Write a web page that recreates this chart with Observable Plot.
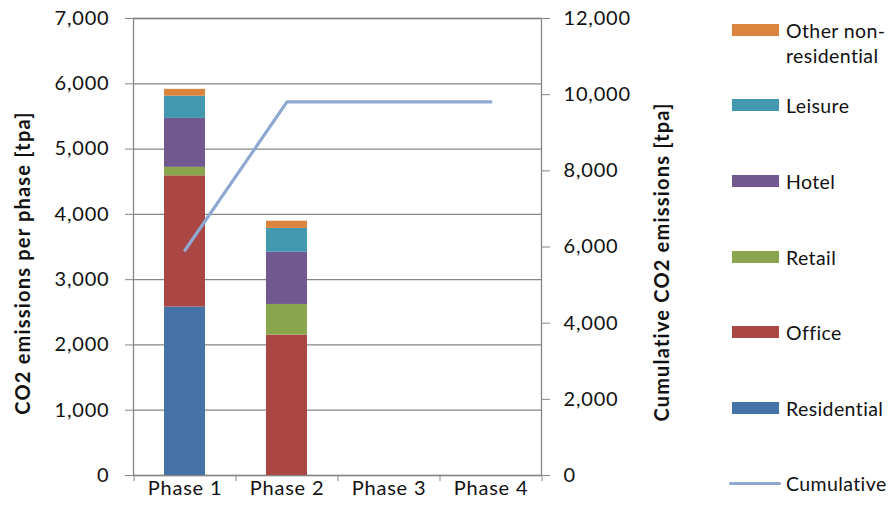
<!DOCTYPE html>
<html>
<head>
<meta charset="utf-8">
<script src="https://cdn.jsdelivr.net/npm/d3@7"></script>
<script src="https://cdn.jsdelivr.net/npm/@observablehq/plot@0.6"></script>
<style>
  body { margin: 0; background: #fff; }
  #chart { position: relative; width: 893px; height: 526px; font-family: Lato, "Open Sans", sans-serif; color: #111; }
  #chart svg { position: absolute; left: 0; top: 0; }
  .legend-item { position: absolute; left: 729px; display: flex; align-items: flex-start; font-size: 19.5px; line-height: 25px; letter-spacing: 0.4px; }
  .legend-swatch { width: 47px; height: 12px; margin: 6px 7px 0 3px; }
  .legend-line { width: 52px; height: 3px; border-radius: 2px; margin: 11px 5px 0 0; }
  .axis-title { position: absolute; font-weight: bold; font-size: 20px; letter-spacing: 1.2px; white-space: nowrap; transform: translate(-50%, -50%) rotate(-90deg); }
</style>
</head>
<body>
<div id="chart"></div>
<script>
// Phases along the x axis
const phases = ["Phase 1", "Phase 2", "Phase 3", "Phase 4"];

// Annual CO2 emissions per phase by building use [tpa]
const residential = [2580, 0, 0, 0];
const office      = [2010, 2150, 0, 0];
const retail      = [130, 470, 0, 0];
const hotel       = [750, 800, 0, 0];
const leisure     = [340, 365, 0, 0];
const otherNonRes = [105, 110, 0, 0];

// Cumulative emissions after each phase [tpa]
const cumulative = [5915, 9810, 9810, 9810];

// Stack order (bottom to top) and colours
const seriesNames  = ["Residential", "Office", "Retail", "Hotel", "Leisure", "Other non-residential"];
const seriesValues = [residential, office, retail, hotel, leisure, otherNonRes];
const seriesColors = ["#4572A7", "#AA4643", "#89A54E", "#71588F", "#4198AF", "#DB843D"];
const lineColor = "#8EA8D2";

// Axis ticks and titles
const leftTicks  = [0, 1000, 2000, 3000, 4000, 5000, 6000, 7000];
const rightTicks = [0, 2000, 4000, 6000, 8000, 10000, 12000];
const leftMax = 7000, rightMax = 12000;
const leftTitle = "CO2 emissions per phase [tpa]";
const rightTitle = "Cumulative CO2 emissions [tpa]";
const k = leftMax / rightMax; // secondary axis -> primary axis units

const rows = [];
seriesNames.forEach((name, s) => {
  phases.forEach((p, i) => rows.push({phase: p, series: name, value: seriesValues[s][i]}));
});
const cumRows = phases.map((p, i) => ({phase: p, value: cumulative[i]}));

const fmt = d3.format(",");
const axisColor = "#868686";
const tickText = {fill: "#111", fontSize: 20, letterSpacing: "0.8px"};

const plot = Plot.plot({
  width: 893,
  height: 526,
  marginLeft: 133,
  marginRight: 352,
  marginTop: 18,
  marginBottom: 51,
  style: {fontFamily: "Lato, 'Open Sans', sans-serif", fontSize: "20px", color: "#111", background: "transparent", letterSpacing: "0.8px"},
  x: {domain: phases, paddingInner: 0.6, paddingOuter: 0.3, axis: null},
  y: {domain: [0, leftMax], axis: null},
  color: {domain: seriesNames, range: seriesColors},
  marks: [
    Plot.gridY(leftTicks, {stroke: axisColor, strokeOpacity: 1, strokeWidth: 1.3}),
    Plot.frame({stroke: axisColor, strokeWidth: 1.3}),
    Plot.barY(rows, {x: "phase", y: "value", fill: "series", order: seriesNames}),
    Plot.line(cumRows, {x: "phase", y: d => d.value * k, stroke: lineColor, strokeWidth: 3.2}),
    // primary axis
    Plot.axisY(leftTicks, {anchor: "left", label: null, tickSize: 8, tickPadding: 16, tickFormat: fmt, stroke: axisColor, ...tickText}),
    // secondary axis (cumulative)
    Plot.axisY(rightTicks.map(v => v * k), {anchor: "right", label: null, tickSize: 8, tickPadding: 14, tickFormat: v => fmt(Math.round(v / k)), stroke: axisColor, ...tickText}),
    // category boundary ticks
    Plot.axisX(phases, {anchor: "bottom", label: null, tickSize: 6, text: null, dx: -51, stroke: axisColor}),
    Plot.axisX([phases[3]], {anchor: "bottom", label: null, tickSize: 6, text: null, dx: 51, stroke: axisColor}),
    Plot.axisX(phases, {anchor: "bottom", label: null, tickSize: 0, tickPadding: 5, ...tickText})
  ]
});

const chart = document.getElementById("chart");
chart.appendChild(plot);

// Axis titles
function addTitle(text, cx, cy) {
  const t = document.createElement("div");
  t.className = "axis-title";
  t.textContent = text;
  t.style.left = cx + "px";
  t.style.top = cy + "px";
  chart.appendChild(t);
}
addTitle(leftTitle, 22, 263);
addTitle(rightTitle, 661, 262);

// Legend (top to bottom: reverse stack order, then the line)
const legendCenters = [30, 105, 181, 257, 332, 408, 483];
const legendItems = seriesNames.map((n, i) => ({name: n, color: seriesColors[i], line: false})).reverse();
legendItems.push({name: "Cumulative", color: lineColor, line: true});
legendItems.forEach((it, i) => {
  const div = document.createElement("div");
  div.className = "legend-item";
  div.style.top = (legendCenters[i] - 12.5) + "px";
  const sw = document.createElement("div");
  sw.className = it.line ? "legend-line" : "legend-swatch";
  sw.style.background = it.color;
  const label = document.createElement("div");
  label.innerHTML = it.name === "Other non-residential" ? "Other non-<br>residential" : it.name;
  div.appendChild(sw);
  div.appendChild(label);
  chart.appendChild(div);
});
</script>
</body>
</html>
